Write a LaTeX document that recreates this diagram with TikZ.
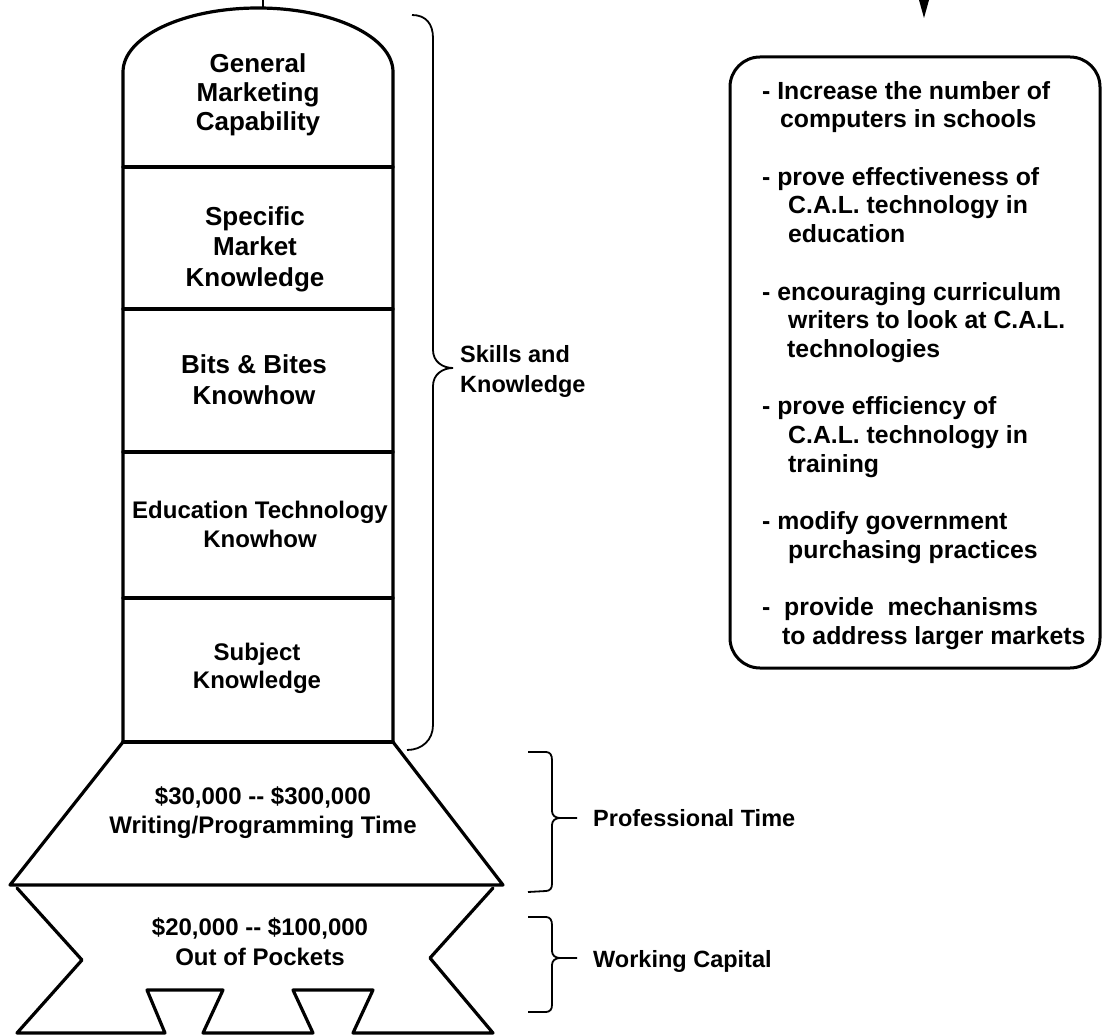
\documentclass[tikz,border=0pt]{standalone}
\usepackage{fontspec}
\setmainfont{Liberation Sans}
\begin{document}
\begin{tikzpicture}[x=1pt,y=-1pt,
  outl/.style={line width=3.2pt, line join=round, line cap=round},
  brc/.style={line width=1.8pt},
  lbl/.style={inner sep=0pt, align=center},
  fA/.style={font=\bfseries\fontsize{26}{29}\selectfont},
  fA31/.style={font=\bfseries\fontsize{26}{31}\selectfont},
  fB/.style={font=\bfseries\fontsize{24}{29}\selectfont},
  fB28/.style={font=\bfseries\fontsize{24}{28}\selectfont},
  fB30/.style={font=\bfseries\fontsize{24}{30}\selectfont},
  fR/.style={font=\bfseries\fontsize{24.8}{28.7}\selectfont},
  fL/.style={font=\bfseries\fontsize{23.5}{30}\selectfont},
]
\useasboundingbox (0,0) rectangle (1106,1035);
\fill[white] (0,0) rectangle (1106,1035);

% incoming connector to dome
\coordinate (topin) at (263,0);
\coordinate (apex) at (263,8.5);
\draw[line width=1.5pt] (topin) -- (apex);

% arrowhead at top right
\fill (919,0) -- (929,0) -- (924,18) -- cycle;

% tower
\draw[outl] (123,742) -- (123,72)
  .. controls (123,36.7) and (183.4,8) .. (258,8)
  .. controls (332.6,8) and (393,36.7) .. (393,72) -- (393,742);
\foreach \yy in {167,309,452,598,742} \draw[outl] (123,\yy) -- (393,\yy);

% trapezoid
\draw[outl] (123,742) -- (10,885) -- (503,885) -- (393,742);

% lower shape
\draw[outl] (17,888) -- (82,960) -- (17,1033) -- (165,1033) -- (147,990) -- (223,990)
  -- (203,1033) -- (313,1033) -- (293,990) -- (373,990) -- (353,1033) -- (493,1033)
  -- (430,958) -- (493,888);

% tower labels
\node[lbl,fA] (gmc) at (258,96.2) {\strut General\\\strut Marketing\\\strut Capability};
\node[lbl,fA31] (smk) at (255,249.8) {\strut Specific\\\strut Market\\\strut Knowledge};
\node[lbl,fA31] (bbk) at (254,382.8) {\strut Bits \& Bites\\\strut Knowhow};
\node[lbl,fB] (etk) at (260,526.7) {\strut Education Technology\\\strut Knowhow};
\node[lbl,fB28] (sk) at (257,668.4) {\strut Subject\\\strut Knowledge};
\node[lbl,fB] (wpt) at (263,812.7) {\strut \$30,000 -{}- \$300,000\\\strut Writing/Programming Time};
\node[lbl,fB30] (oop) at (260,944) {\strut \$20,000 -{}- \$100,000\\\strut Out of Pockets};

% braces
\draw[brc] (412,15) .. controls (426,15) and (433,24) .. (433,38) -- (433,350)
  .. controls (433,362) and (443,368) .. (453,368)
  .. controls (443,368) and (433,374) .. (433,386) -- (433,725)
  .. controls (433,740) and (422,750) .. (407,750);
\draw[brc] (528,752) -- (546,752) .. controls (550,752) and (552,755) .. (552,760) -- (552,811)
  .. controls (552,815) and (555,818) .. (560,818) -- (577,818);
\draw[brc] (560,818) .. controls (555,818) and (552,821) .. (552,825) -- (552,884)
  .. controls (552,888) and (550,891) .. (546,891) -- (528,892);
\draw[brc] (528,917) -- (546,917) .. controls (550,917) and (552,920) .. (552,925) -- (552,951)
  .. controls (552,955) and (555,958) .. (560,958) -- (577,958);
\draw[brc] (560,958) .. controls (555,958) and (552,961) .. (552,965) -- (552,1005)
  .. controls (552,1009) and (550,1012) .. (546,1012) -- (528,1012);

% brace labels
\node[lbl,fL,align=left,anchor=west] (skl) at (460,371) {\strut Skills and\\\strut Knowledge};
\node[lbl,fL,align=left,anchor=west] (prt) at (593,820.5) {\strut Professional Time};
\node[lbl,fL,align=left,anchor=west] (wkc) at (593,961) {\strut Working Capital};

% right box
\draw[line width=3pt, rounded corners=30pt] (730,57) rectangle (1100,668);
\node[lbl,fR,align=left,anchor=north west] (goals) at (762,78.9) {%
\strut- Increase the number of\\
\hspace*{18pt}\strut computers in schools\\
\strut\\
\strut- prove effectiveness of\\
\hspace*{26pt}\strut C.A.L. technology in\\
\hspace*{26pt}\strut education\\
\strut\\
\strut- encouraging curriculum\\
\hspace*{26pt}\strut writers to look at C.A.L.\\
\hspace*{25pt}\strut technologies\\
\strut\\
\strut- prove efficiency of\\
\hspace*{26pt}\strut C.A.L. technology in\\
\hspace*{26pt}\strut training\\
\strut\\
\strut- modify government\\
\hspace*{26pt}\strut purchasing practices\\
\strut\\
\strut-\ \ provide\ \ mechanisms\\
\hspace*{20pt}\strut to address larger markets};
\end{tikzpicture}
\end{document}
